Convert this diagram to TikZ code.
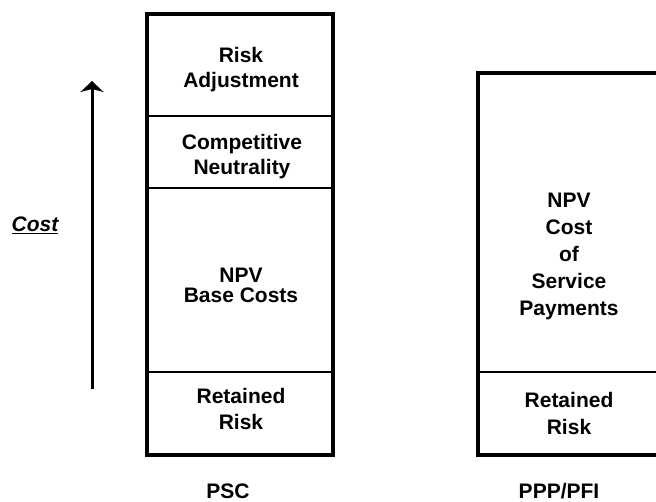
\documentclass[tikz,border=0pt]{standalone}
\usepackage{fontspec}
\setmainfont{Liberation Sans}
\usetikzlibrary{arrows.meta}
\begin{document}
\begin{tikzpicture}[x=1pt,y=-1pt,
  lbl/.style={font=\fontsize{21}{26}\selectfont\bfseries, anchor=base, inner sep=0pt},
  frame/.style={draw=black, line width=4pt},
  divider/.style={draw=black, line width=1.1pt},
  costarrow/.style={line width=3pt, -{Stealth[length=11pt,width=23pt,inset=3pt]}}]
\useasboundingbox (0,0) rectangle (656,502);
\clip (0,0) rectangle (656,502);
% left box (PSC)
\draw[divider] (147,116) -- (333,116);
\draw[divider] (147,188) -- (333,188);
\draw[divider] (147,372) -- (333,372);
\draw[frame] (147,14) rectangle (333,455);
% right box (PPP/PFI)
\draw[divider] (478,372) -- (672,372);
\draw[frame] (478,73) rectangle (672,455);
% arrow
\coordinate (abot) at (92,389);
\coordinate (atop) at (92,81);
\draw[costarrow] (abot) -- (atop);
\node[lbl, font=\fontsize{21}{26}\selectfont\bfseries\itshape] (cost) at (35,232) {\underline{Cost}};
% left texts
\node[lbl] (l1a) at (241,63) {Risk};
\node[lbl] (l1b) at (241,88) {Adjustment};
\node[lbl] (l2a) at (242,150) {Competitive};
\node[lbl] (l2b) at (242,175) {Neutrality};
\node[lbl] (l3a) at (241,283) {NPV};
\node[lbl] (l3b) at (241,303) {Base Costs};
\node[lbl] (l4a) at (241,404) {Retained};
\node[lbl] (l4b) at (241,430) {Risk};
\node[lbl] (psc) at (228,498) {PSC};
% right texts
\node[lbl] (r1) at (569,208) {NPV};
\node[lbl] (r2) at (569,235) {Cost};
\node[lbl] (r3) at (569,262) {of};
\node[lbl] (r4) at (569,289) {Service};
\node[lbl] (r5) at (569,316) {Payments};
\node[lbl] (r6) at (569,408) {Retained};
\node[lbl] (r7) at (569,435) {Risk};
\node[lbl] (ppp) at (559,498) {PPP/PFI};
\end{tikzpicture}
\end{document}
